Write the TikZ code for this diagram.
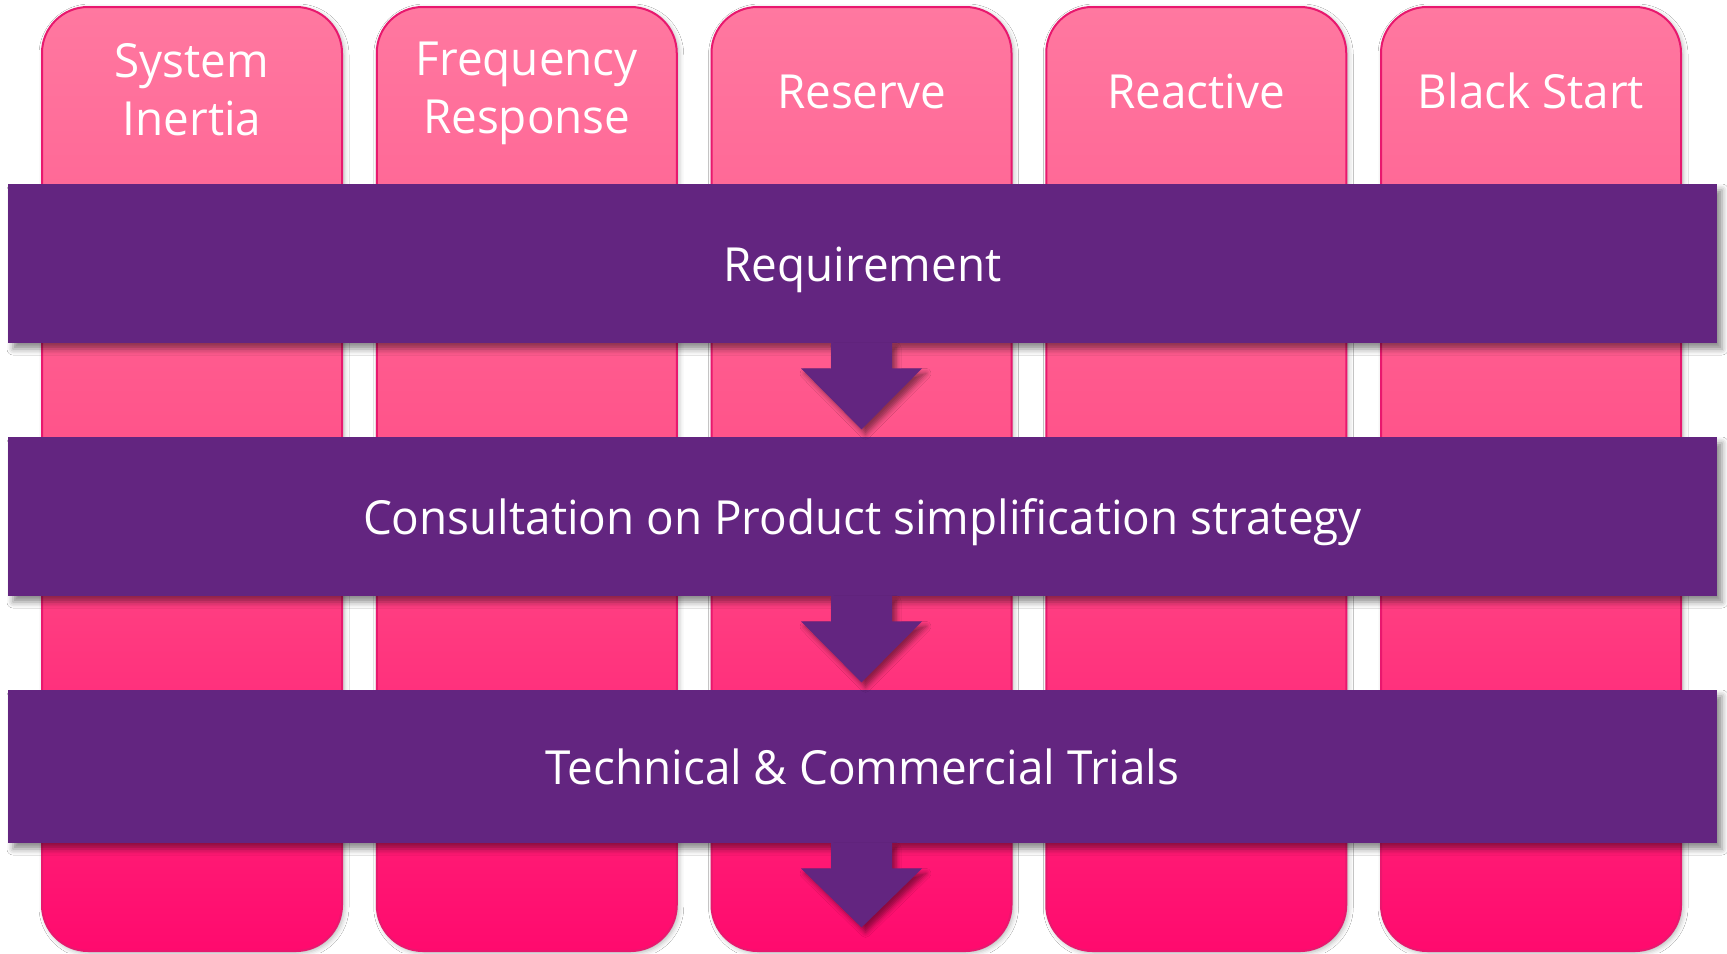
\documentclass[tikz,border=0pt]{standalone}
\usepackage{fontspec}
\setmainfont{Open Sans}[FakeStretch=0.975]
\usetikzlibrary{shadows.blur,calc}
\definecolor{purp}{HTML}{632580}
\definecolor{pktop}{HTML}{FF78A0}
\definecolor{pkmid}{HTML}{FF5088}
\definecolor{pkbot}{HTML}{FF0A6E}
\definecolor{pkline}{HTML}{E8186E}
\begin{document}
\begin{tikzpicture}[x=0.5pt,y=-0.5pt,
  col/.style={draw=pkline, line width=1pt, rounded corners=23pt,
    top color=pktop, bottom color=pkbot, middle color=pkmid,
    minimum width=150pt, minimum height=472pt, inner sep=0pt,
    blur shadow={shadow xshift=1pt, shadow yshift=-1pt, shadow blur radius=2.5pt, shadow opacity=30}},
  bar/.style={fill=purp, draw=none, minimum width=854.5pt, inner sep=0pt,
    text=white, font=\fontsize{23.5}{29}\selectfont, text height=17.5pt, text depth=0pt,
    blur shadow={shadow xshift=2.5pt, shadow yshift=-3pt, shadow blur radius=3pt, shadow opacity=45}},
  collabel/.style={text=white, font=\fontsize{23.5}{29}\selectfont, align=center, anchor=base, inner sep=0pt},
  darrow/.style={fill=purp, draw=none,
    blur shadow={shadow xshift=2pt, shadow yshift=-2.5pt, shadow blur radius=2.5pt, shadow opacity=45}}
]
\useasboundingbox (0,0) rectangle (1727,953);
\fill[white] (0,0) rectangle (1727,953);
% columns
\node[col] (c1) at (192,479) {};
\node[col] (c2) at (526.75,479) {};
\node[col] (c3) at (861.5,479) {};
\node[col] (c4) at (1196.25,479) {};
\node[col] (c5) at (1531,479) {};
% column labels
\node[collabel] (l1) at (192,135) {System\\Inertia};
\node[collabel] (l2) at (526.75,133) {Frequency\\Response};
\node[collabel] (l3) at (861.5,108) {Reserve};
\node[collabel] (l4) at (1196.25,108) {Reactive};
\node[collabel] (l5) at (1531,108) {Black Start};
% bars
\node[bar, minimum height=79.5pt] (b1) at (862.5,263.5) {Requirement};
\node[bar, minimum height=79.5pt] (b2) at (862.5,516.5) {Consultation on Product simplification strategy};
\node[bar, minimum height=76.5pt] (b3) at (862.5,766.5) {Technical \& Commercial Trials};
% arrows
\foreach \b/\h in {b1/61, b2/61, b3/59}{
  \coordinate (a) at (c3.center |- \b.south);
  \fill[darrow] (a) ++(-30.5,-1) -- ++(0,26) -- ++(-30,0) -- ++(60.5,\h) -- ++(60.5,-\h) -- ++(-30,0) -- ++(0,-26) -- cycle;
}
\end{tikzpicture}
\end{document}
